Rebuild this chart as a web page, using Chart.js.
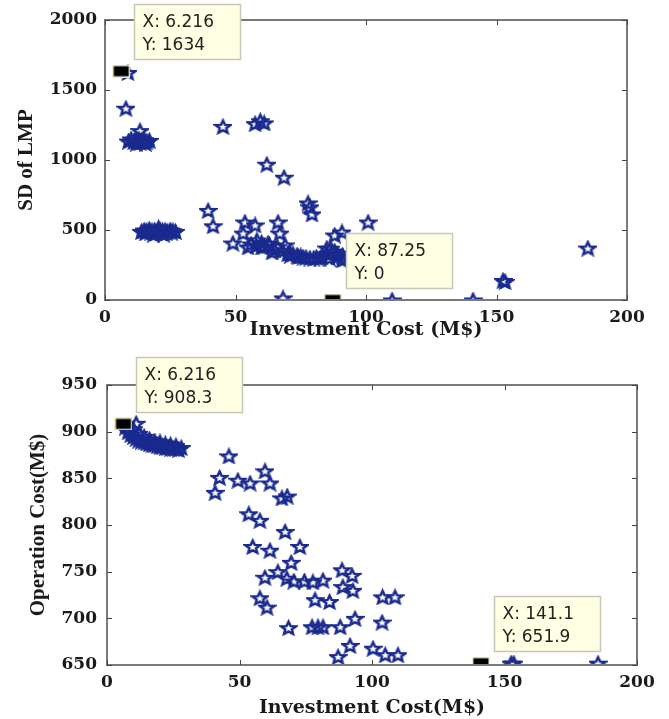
<!DOCTYPE html>
<html>
<head>
<meta charset="utf-8">
<script src="https://cdn.jsdelivr.net/npm/chart.js@4/dist/chart.umd.min.js"></script>
<style>
  body { margin: 0; background: #fff; }
  canvas { display: block; }
</style>
</head>
<body>
<canvas id="sd-chart" width="669" height="340"></canvas>
<canvas id="op-chart" width="669" height="379"></canvas>
<script>
// Pareto front: investment cost vs SD of LMP
const sdInvest = [8.8, 8, 13.4,
  9, 10, 11, 11.5, 12, 12.5, 13, 13.5, 14, 14.5, 15, 15.5, 16, 17,
  14, 15, 15.5, 16, 17, 17.5, 18, 19, 19.5, 20, 21, 21.5, 22, 23, 23.5, 24, 25, 25.5, 26, 27, 18.5, 22.5, 20.5,
  45.2, 57.5, 59.5, 61, 62, 68.6, 77.8, 78.5, 79.3,
  39.5, 41.4, 49, 53.6, 57.5, 52.9, 54.8, 58.2, 60, 62.5, 66.3, 67, 64, 69, 70.9, 73.6, 75.9, 78.5, 82.4, 85, 88, 90.8, 88.9, 90.8,
  100.8, 68.2, 110, 141, 152.5, 153.3, 185,
  56, 58, 60, 61, 63, 65, 66, 68, 70, 71, 72, 74, 75, 77, 80, 81, 83, 85, 86, 87, 89, 91, 92, 86.5, 88];
const sdLmp = [1625, 1370, 1210,
  1135, 1150, 1130, 1145, 1120, 1140, 1150, 1125, 1140, 1130, 1145, 1120, 1135, 1140,
  490, 500, 480, 495, 505, 485, 495, 500, 480, 490, 505, 485, 495, 500, 480, 490, 500, 485, 495, 490, 470, 470, 515,
  1240, 1260, 1280, 1265, 970, 877, 693, 665, 615,
  640, 530, 407, 557, 536, 478, 379, 429, 379, 407, 557, 478, 343, 393, 336, 321, 307, 300, 300, 371, 464, 486, 321, 286,
  557, 15, 0, 0, 140, 132, 371,
  400, 390, 410, 385, 395, 360, 380, 350, 330, 320, 330, 310, 315, 305, 300, 305, 310, 330, 300, 340, 310, 320, 300, 370, 350];

// Pareto front: investment cost vs operation cost
const opInvest = [7, 8, 9, 10, 10, 11, 12, 12, 13, 14, 14, 15, 16, 16, 17, 18, 18, 19, 20, 20, 21, 22, 22, 23, 24, 24, 25, 26, 26, 27, 28, 11,
  46, 42.5, 40.8, 49.4, 54, 59.6, 61.5, 66, 68, 53.5, 57.7, 67.2, 55, 61.5, 72.8, 69.5, 59.6, 64.5, 67.9, 70.5, 74.5, 77.7, 81.5,
  57.7, 60.4, 78.5, 84, 68.5, 77.4, 79.6, 81.5, 88, 93.6, 87.2, 91.7, 88.7, 92.5, 89, 92.8, 104, 108.7, 103.8, 100.4, 105, 109.8,
  152.5, 153.5, 185.3];
const opCost = [905, 900, 897, 903, 895, 893, 898, 891, 890, 895, 889, 888, 892, 887, 886, 890, 886, 885, 889, 884, 884, 887, 883, 883, 886, 882, 882, 885, 882, 881, 883, 909,
  874, 851, 835, 848, 845, 858, 845, 829, 831, 812, 805, 793, 777, 773, 777, 760, 744, 750, 743, 740, 740, 739, 741,
  722, 712, 720, 718, 690, 691, 691, 691, 691, 700, 659, 671, 752, 746, 734, 730, 723, 723, 696, 668, 661, 661,
  652, 652, 652];

// data tips
const sdTipX = [6.216, 87.25];
const sdTipY = [1634, 0];
const opTipX = [6.216, 141.1];
const opTipY = [908.3, 651.9];

const xTicks = [0, 50, 100, 150, 200];
const sdTicks = [0, 500, 1000, 1500, 2000];
const opTicks = [650, 700, 750, 800, 850, 900, 950];

const navy = '#1a2a8e';

// five-point outline star marker
function makeStar() {
    const c = document.createElement('canvas');
    c.width = 19; c.height = 17;
    const g = c.getContext('2d');
    g.strokeStyle = navy;
    g.lineWidth = 2.5;
    g.lineJoin = 'miter';
    g.beginPath();
    for (let i = 0; i < 10; i++) {
        const r = i % 2 === 0 ? 6.7 : 3;
        const a = -Math.PI / 2 + i * Math.PI / 5;
        const px = 9.5 + Math.cos(a) * r * 1.15;
        const py = 9.3 + Math.sin(a) * r;
        if (i === 0) g.moveTo(px, py); else g.lineTo(px, py);
    }
    g.closePath();
    g.stroke();
    return c;
}

// black datatip marker
function makeSquare() {
    const c = document.createElement('canvas');
    c.width = 18; c.height = 13;
    const g = c.getContext('2d');
    g.fillStyle = '#f1ecc4';
    g.fillRect(0, 0, 18, 13);
    g.fillStyle = '#000';
    g.fillRect(1.5, 1.5, 15, 10);
    return c;
}

const starImg = makeStar();
const squareImg = makeSquare();

const frameTips = {
    id: 'frameTips',
    afterDatasetsDraw(chart) {
        const {ctx, chartArea: a, scales} = chart;
        ctx.save();
        ctx.strokeStyle = '#7a7a7a';
        ctx.lineWidth = 2;
        ctx.strokeRect(a.left, a.top, a.right - a.left, a.bottom - a.top);
        ctx.strokeStyle = '#444';
        ctx.lineWidth = 1;
        ctx.beginPath();
        scales.x.ticks.forEach(t => {
            const px = Math.round(scales.x.getPixelForValue(t.value)) + 0.5;
            ctx.moveTo(px, a.bottom); ctx.lineTo(px, a.bottom - 5);
            ctx.moveTo(px, a.top); ctx.lineTo(px, a.top + 5);
        });
        scales.y.ticks.forEach(t => {
            const py = Math.round(scales.y.getPixelForValue(t.value)) + 0.5;
            ctx.moveTo(a.left, py); ctx.lineTo(a.left + 5, py);
            ctx.moveTo(a.right, py); ctx.lineTo(a.right - 5, py);
        });
        ctx.stroke();
        ctx.restore();
    },
    afterDraw(chart) {
        const {ctx, scales} = chart;
        const tips = chart.options.plugins.frameTips.tips;
        ctx.save();
        tips.x.forEach((xv, i) => {
            const px = scales.x.getPixelForValue(xv);
            const py = scales.y.getPixelForValue(tips.y[i]);
            const left = Math.round(px + 13) + 0.5;
            const top = Math.round(py - 67) + 0.5;
            ctx.fillStyle = '#ffffe4';
            ctx.fillRect(left, top, 106, 55);
            ctx.strokeStyle = '#c8c8b8';
            ctx.lineWidth = 1.5;
            ctx.strokeRect(left, top, 106, 55);
            ctx.fillStyle = '#222';
            ctx.font = '17px "DejaVu Sans"';
            ctx.textBaseline = 'alphabetic';
            ctx.fillText('X: ' + xv, left + 8, top + 22);
            ctx.fillText('Y: ' + tips.y[i], left + 8, top + 45);
        });
        ctx.restore();
    }
};

function buildChart(id, xs, ys, tipX, tipY, yTicks, opts) {
    const ctx = document.getElementById(id).getContext('2d');
    return new Chart(ctx, {
        type: 'scatter',
        data: {
            datasets: [{
                data: xs.map((x, i) => ({x: x, y: ys[i]})),
                pointStyle: starImg,
                pointRadius: 8,
                order: 2
            }, {
                data: tipX.map((x, i) => ({x: x, y: tipY[i]})),
                pointStyle: squareImg,
                pointRadius: 8,
                order: 1
            }]
        },
        options: {
            responsive: false,
            animation: false,
            layout: { padding: { top: opts.top, right: opts.right, left: 0, bottom: 0 } },
            plugins: {
                legend: { display: false },
                tooltip: { enabled: false },
                frameTips: { tips: { x: tipX, y: tipY } }
            },
            scales: {
                x: {
                    type: 'linear',
                    min: 0,
                    max: 200,
                    afterFit: s => { s.height = opts.xHeight; },
                    afterBuildTicks: s => { s.ticks = xTicks.map(v => ({value: v})); },
                    grid: { display: false, drawTicks: false },
                    border: { display: false },
                    ticks: {
                        padding: 7,
                        color: '#1a1a1a',
                        callback: v => String(v),
                        font: { family: '"DejaVu Serif"', size: 17, weight: 'bold' }
                    },
                    title: {
                        display: true,
                        text: opts.xTitle,
                        color: '#1a1a1a',
                        padding: 0,
                        font: { family: '"DejaVu Serif"', size: 19, weight: 'bold', lineHeight: opts.xTitleLH }
                    }
                },
                y: {
                    min: yTicks[0],
                    max: yTicks[yTicks.length - 1],
                    afterFit: s => { s.width = opts.yWidth; },
                    afterBuildTicks: s => { s.ticks = yTicks.map(v => ({value: v})); },
                    grid: { display: false, drawTicks: false },
                    border: { display: false },
                    ticks: {
                        padding: opts.yPad,
                        color: '#1a1a1a',
                        callback: v => String(v),
                        font: { family: '"DejaVu Serif"', size: 17, weight: 'bold' }
                    },
                    title: {
                        display: true,
                        text: opts.yTitle,
                        color: '#1a1a1a',
                        padding: { top: opts.yTitlePad, bottom: 0 },
                        font: { family: '"Liberation Serif"', size: 21, weight: 'bold' }
                    }
                }
            }
        },
        plugins: [frameTips]
    });
}

buildChart('sd-chart', sdInvest, sdLmp, sdTipX, sdTipY, sdTicks, {
    top: 20, right: 42, xHeight: 40, yWidth: 105, yPad: 8, yTitlePad: 14, xTitleLH: 1,
    xTitle: 'Investment Cost (M$)', yTitle: 'SD of LMP'
});
buildChart('op-chart', opInvest, opCost, opTipX, opTipY, opTicks, {
    top: 45, right: 32, xHeight: 54, yWidth: 107, yPad: 10, yTitlePad: 26, xTitleLH: 1.2,
    xTitle: 'Investment Cost(M$)', yTitle: 'Operation Cost(M$)'
});
</script>
</body>
</html>
